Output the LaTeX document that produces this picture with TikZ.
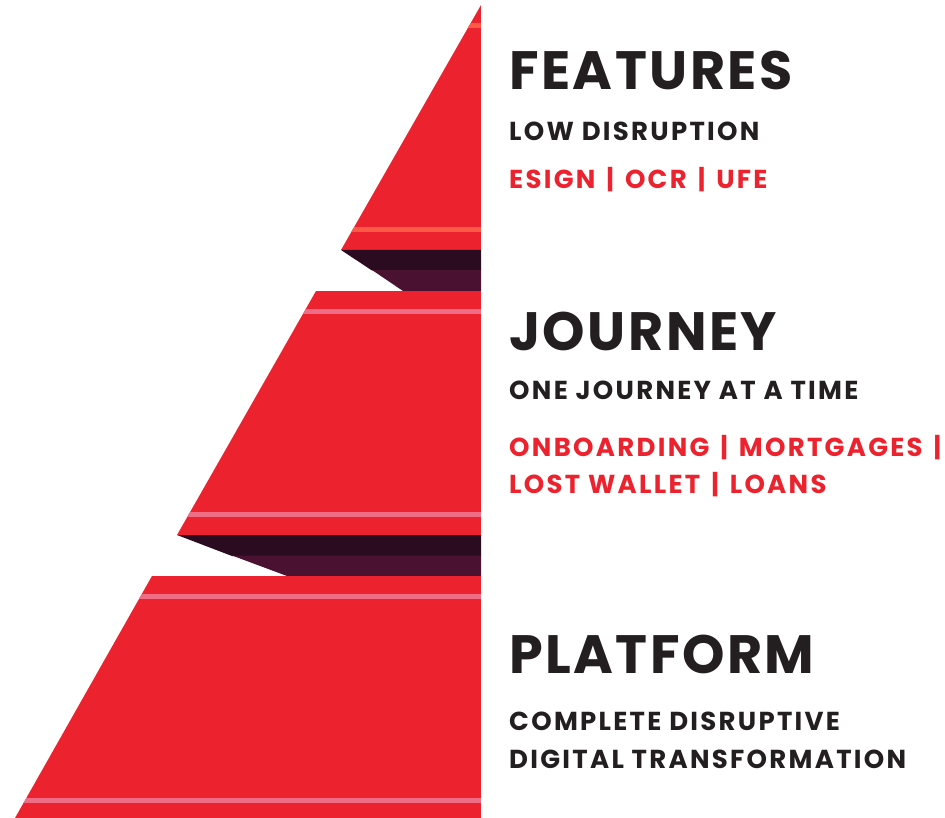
\documentclass[tikz,border=0pt]{standalone}
\usepackage{fontspec}
\setmainfont{Poppins}
\newfontfamily\headfont{Poppins}[LetterSpace=4.6]
\newfontfamily\subfont{Poppins}[LetterSpace=8.8]
\newcommand\barsep{\hspace{11pt}|\hspace{11pt}}
\definecolor{tred}{HTML}{EC232E}
\definecolor{tstripeA}{HTML}{FF5A47}
\definecolor{tstripeB}{HTML}{EF6E86}
\definecolor{dkA}{HTML}{2A0B1F}
\definecolor{dkB}{HTML}{4A1230}
\definecolor{txt}{HTML}{231F20}
\tikzset{
  tier/.style={fill=tred},
  head/.style={anchor=base west, inner sep=0pt, text=txt, font=\headfont\fontsize{54}{54}\selectfont\bfseries},
  sub/.style={anchor=base west, inner sep=0pt, text=txt, font=\subfont\fontsize{26}{26}\selectfont\bfseries},
  items/.style={anchor=base west, inner sep=0pt, text=tred, font=\subfont\fontsize{26}{26}\selectfont\bfseries},
}
\begin{document}
\begin{tikzpicture}[x=1pt,y=-1pt]
\useasboundingbox (0,0) rectangle (945,818);
% tier 1
\begin{scope}
\path[clip] (481,5) -- (481,250) -- (341,250) -- cycle;
\fill[tier] (300,0) rectangle (481,250);
\fill[tstripeA] (300,23) rectangle (481,28);
\fill[tstripeA] (300,227) rectangle (481,232);
\end{scope}
% dark band 1
\fill[dkA] (341,250) -- (481,250) -- (481,270.5) -- (372,270.5) -- cycle;
\fill[dkB] (372,270) -- (481,270) -- (481,291) -- (403,291) -- cycle;
% tier 2
\begin{scope}
\path[clip] (316,291) -- (481,291) -- (481,535) -- (177,535) -- cycle;
\fill[tier] (150,291) rectangle (481,535);
\fill[tstripeB] (150,309) rectangle (481,314);
\fill[tstripeB] (150,512) rectangle (481,517);
\end{scope}
% dark band 2
\fill[dkA] (177,535) -- (481,535) -- (481,556) -- (232,556) -- cycle;
\fill[dkB] (232,555.5) -- (481,555.5) -- (481,576) -- (287,576) -- cycle;
% tier 3
\begin{scope}
\path[clip] (152,576) -- (481,576) -- (481,818) -- (15,818) -- cycle;
\fill[tier] (0,576) rectangle (481,818);
\fill[tstripeB] (0,594) rectangle (481,599);
\fill[tstripeB] (0,798) rectangle (481,803);
\end{scope}
% texts
\node[head] (hf) at (509,90) {FEATURES};
\node[sub] (sf) at (509,141) {LOW DISRUPTION};
\node[items] (if) at (509,189) {ESIGN\barsep OCR\barsep UFE};
\node[head] (hj) at (509,350) {JOURNEY};
\node[sub] (sj) at (509,399) {ONE JOURNEY AT A TIME};
\node[items] (ij1) at (509,456) {ONBOARDING\barsep MORTGAGES\hspace{11pt}|};
\node[items] (ij2) at (509,493) {LOST WALLET\barsep LOANS};
\node[head] (hp) at (509,673) {PLATFORM};
\node[sub] (sp1) at (509,730) {COMPLETE DISRUPTIVE};
\node[sub] (sp2) at (509,768) {DIGITAL TRANSFORMATION};
\end{tikzpicture}
\end{document}
